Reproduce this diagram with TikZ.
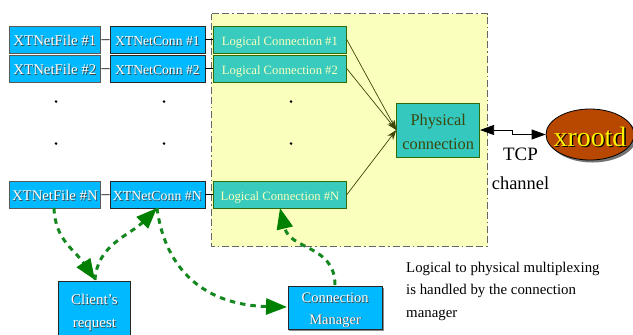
\documentclass[tikz,border=0pt]{standalone}
\usepackage{fontspec}
\setmainfont{Liberation Serif}
\usetikzlibrary{arrows.meta,shapes.geometric}
\definecolor{boxblue}{RGB}{0,185,255}
\definecolor{logteal}{RGB}{56,203,190}
\definecolor{physteal}{RGB}{52,200,190}
\definecolor{panel}{RGB}{250,255,190}
\definecolor{olive}{RGB}{60,70,10}
\definecolor{dgreen}{RGB}{20,135,30}
\definecolor{tipgreen}{RGB}{0,128,0}
\definecolor{rust}{RGB}{184,72,0}
% text with its offset shadow; #1 drop of the baseline below the node centre
\newcommand{\lowtext}[2]{\leavevmode\smash{\raisebox{-#1bp}{#2}}}
\newcommand{\shtext}[3][6]{\lowtext{#1}{\rlap{\kern.8pt\raisebox{-.8pt}{\textcolor{black!75}{#3}}}\textcolor{#2}{#3}}}
\newcommand{\bigshtext}[3][6]{\lowtext{#1}{\rlap{\kern1.3pt\raisebox{-1.3pt}{\textcolor{black}{#3}}}\textcolor{#2}{#3}}}
\tikzset{
  gtip/.tip={Triangle[length=21pt,width=16pt,color=tipgreen]},
  bluebox/.style={draw=black!85,line width=.8pt,fill=boxblue,inner sep=0pt,text=white,font=\fontsize{14.9}{17}\selectfont,anchor=north west},
  filebox/.style={bluebox,draw=black!65,line width=1.3pt},
  logbox/.style={draw=olive!80!green,line width=.8pt,fill=logteal,inner sep=0pt,font=\fontsize{12.7}{14}\selectfont,anchor=north west},
  link/.style={draw=black,line width=.7pt},
  feed/.style={draw=olive,line width=.7pt,-{Stealth[length=10pt,width=7pt]}},
  greenflow/.style={draw=dgreen,line width=3pt,dash pattern=on 5.5pt off 5pt,-gtip},
  dotmark/.style={circle,fill=black,inner sep=0pt,minimum size=3pt},
  plain/.style={inner sep=0pt,text=black}
}
\begin{document}
\begin{tikzpicture}[x=1bp,y=-1bp]
\useasboundingbox (0,0) rectangle (633,334);
% panel
\fill[panel] (211,13.5) rectangle (487.5,246.5);
\draw[black!60,line width=.9pt,dash pattern=on 7pt off 3pt on 7pt off 3pt on 1.5pt off 3pt] (211,13.5) rectangle (487.5,246.5);
% file boxes
\foreach \n/\t/\l in {a/26/1,b/55/2}{
  \node[filebox,minimum width=91.5bp,minimum height=26.5bp] (file\n) at (8.5,\t) {\shtext{white}{XTNetFile \#\l}};
  \node[bluebox,minimum width=95bp,minimum height=26.5bp,font=\fontsize{13.7}{17}\selectfont] (conn\n) at (109.5,\t) {\shtext{white}{XTNetConn \#\l}};
  \node[logbox,minimum width=133bp,minimum height=26.5bp] (log\n) at (213,\t) {\lowtext{5.8}{\textcolor{panel}{Logical Connection \#\l}}};
}
\node[filebox,minimum width=91.5bp,minimum height=26.5bp,font=\fontsize{14.8}{17}\selectfont] (filen) at (8.5,181) {\shtext{white}{XTNetFile \#N}};
\node[bluebox,minimum width=95bp,minimum height=26.5bp,font=\fontsize{13.9}{17}\selectfont] (connn) at (109.5,181) {\shtext{white}{XTNetConn \#N}};
\node[logbox,minimum width=133bp,minimum height=26.5bp] (logn) at (213,181) {\lowtext{5.8}{\textcolor{panel}{Logical Connection \#N}}};
% links
\draw[link] (filea) -- (conna);
\draw[link] (fileb) -- (connb);
\draw[link] (filen) -- (connn);
\draw[link] (conna) -- (loga);
\draw[link] (connb) -- (logb);
\draw[link] (connn) -- (logn);
% dots
\foreach \x/\k in {56/p,164/q,291/r}{
  \node[dotmark] (d1\k) at (\x,101.5) {};
  \node[dotmark] (d2\k) at (\x,143.5) {};
}
% physical
\node[draw=olive!80!green,line width=.8pt,fill=physteal,inner sep=0pt,minimum width=83bp,minimum height=54bp,align=center,text=olive,font=\fontsize{16.4}{25}\selectfont] (phys) at (438.2,130) {\lowtext{7.5}{Physical}\\\lowtext{7.5}{connection}};
\draw[feed] (loga.east) -- (phys.west);
\draw[feed] (logb.east) -- (phys.west);
\draw[feed] (logn.east) -- (phys.west);
% xrootd
\fill[black!55] (592.5,137) ellipse [x radius=44bp,y radius=25.5bp];
\node[ellipse,draw=black,line width=.8pt,fill=rust,inner sep=0pt,minimum width=88bp,minimum height=51bp,font=\fontsize{28}{30}\selectfont] (xrd) at (590,134.5) {\makebox[0pt]{\bigshtext[12]{yellow}{xrootd}}};
\draw[black,line width=.8pt,{Stealth[length=14pt,width=10pt,inset=0pt]}-{Stealth[length=14pt,width=10pt,inset=0pt]}] (phys.east) -- (512,130) -- (512,134.5) -- (xrd.west);
\node[plain,font=\fontsize{19}{21}\selectfont] (tcp) at (520.5,154) {TCP};
\node[plain,font=\fontsize{18.5}{21}\selectfont] (chan) at (520.5,183) {channel};
% lower boxes
\node[bluebox,minimum width=72bp,minimum height=58bp,align=center,font=\fontsize{15}{23}\selectfont] (client) at (58,280.5) {\shtext{white}{Client's}\\\shtext{white}{request}};
\fill[black!45] (289,287.5) rectangle (383.5,331);
\node[bluebox,minimum width=94.5bp,minimum height=43.5bp,align=center,font=\fontsize{14.6}{21.5}\selectfont] (mgr) at (287.5,285.5) {\shtext[5.8]{white}{Connection}\\\shtext[5.8]{white}{Manager}};
% flows
\coordinate (c1) at (54,208);
\coordinate (c2) at (157,208);
\coordinate (c3) at (335,285);
\coordinate (c4) at (95,280);
\coordinate (c5) at (287,307);
\coordinate (c6) at (280,208);
\draw[greenflow] (c1) .. controls (55,240) and (75,250) .. (c4);
\draw[greenflow] (c4) .. controls (97,245) and (130,235) .. (c2);
\draw[greenflow] (c2) .. controls (165,270) and (205,305) .. (c5);
\draw[greenflow] (c3) .. controls (335,245) and (290,250) .. (c6);
% note
\node[plain,anchor=north west,align=left,font=\fontsize{14.9}{22.6}\selectfont] (note) at (406,261.5) {Logical to physical multiplexing\\is handled by the connection\\manager};
\end{tikzpicture}
\end{document}
